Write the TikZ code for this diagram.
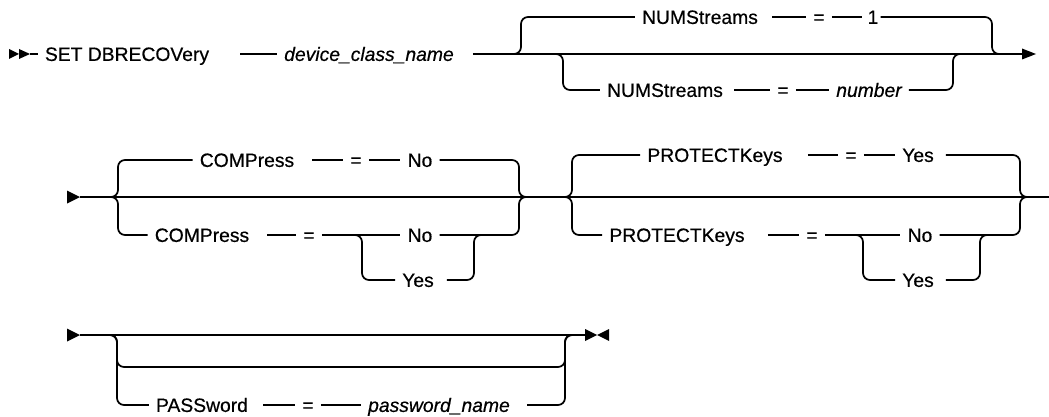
\documentclass[tikz,border=0pt]{standalone}
\usepackage{fontspec}
\setmainfont{Liberation Sans}
\newfontfamily\kwfont{Liberation Sans}[FakeBold=0.5, ItalicFeatures={FakeBold=0.5}]
\begin{document}
\begin{tikzpicture}[x=1pt,y=-1pt,
  ln/.style={line width=1.7pt, rounded corners=7pt},
  kw/.style={font=\kwfont\fontsize{19.3}{23}\selectfont, inner xsep=7pt, inner ysep=0pt, text height=13.8pt, text depth=0pt},
  var/.style={kw, font=\kwfont\fontsize{19.3}{23}\selectfont\itshape},
  tip/.style={fill=black}]
\useasboundingbox (0,0) rectangle (1049,417);

% ---------- Row 1 ----------
\node[kw]  (set)  at (127,54) {SET DBRECOVery};
\node[var] (dcn)  at (369,54) {device\_class\_name};
\node[kw]  (nsA)  at (700,17) {NUMStreams};
\node[kw]  (eqA)  at (819,17) {=};
\node[kw, inner xsep=2pt] (oneA) at (873,17) {1};
\node[kw]  (nsB)  at (665,90) {NUMStreams};
\node[kw]  (eqB)  at (783,90) {=};
\node[var] (numB) at (869,90) {number};
\coordinate (s1) at (30,54);
\coordinate (f1) at (506,54);
\coordinate (f2) at (555,54);
\coordinate (j1) at (1000,54);
\coordinate (j2) at (960,54);
\coordinate (e1) at (1022,54);

\fill[tip] (9,49) -- (19,54) -- (9,59) -- cycle;
\fill[tip] (19,49) -- (30,54) -- (19,59) -- cycle;
\draw[ln] (s1) -- (set.west);
\draw[ln, shorten <=24pt] (set.east) -- (dcn.west);
\draw[ln, shorten <=12pt] (dcn.east) -- (e1);
\fill[tip] (1022,48.5) -- (1036,54) -- (1022,59.5) -- cycle;
\draw[ln] (f1) -- ++(15,0) |- (nsA.west);
\draw[ln, shorten <=7pt] (nsA.east) -- (eqA.west);
\draw[ln, shorten >=3pt] (eqA.east) -- (oneA.west);
\draw[ln] (j1) -- ++(-8,0) |- (oneA.east);
\draw[ln] (f2) -- ++(8,0) |- (nsB.west);
\draw[ln, shorten <=4pt] (nsB.east) -- (eqB.west);
\draw[ln] (eqB.east) -- (numB.west);
\draw[ln] (j2) -- ++(-7,0) |- (numB.east);

% ---------- Row 2 ----------
\node[kw] (cpA) at (247,160) {COMPress};
\node[kw] (eqC) at (356,160) {=};
\node[kw] (noC) at (420,160) {No};
\node[kw] (cpB) at (202,235) {COMPress};
\node[kw] (eqD) at (309,235) {=};
\node[kw] (noD) at (420,235) {No};
\node[kw] (yesD) at (418,280) {Yes};
\node[kw] (pkA) at (715,155) {PROTECTKeys};
\node[kw] (eqE) at (851,155) {=};
\node[kw] (yesE) at (918,155) {Yes};
\node[kw] (pkB) at (677,235) {PROTECTKeys};
\node[kw] (eqF) at (812,235) {=};
\node[kw] (noF) at (920,235) {No};
\node[kw] (yesF) at (918,280) {Yes};
\coordinate (s2) at (80,197);
\coordinate (e2) at (1049,197);
\coordinate (f3) at (108,197);
\coordinate (j3) at (528,197);
\coordinate (f5) at (354,235);
\coordinate (j5) at (481,235);
\coordinate (f6) at (564,197);
\coordinate (j6) at (1029,197);
\coordinate (f7) at (856,235);
\coordinate (j7) at (988,235);

\fill[tip] (67,190.5) -- (80,197) -- (67,203.5) -- cycle;
\draw[ln] (s2) -- (e2);
% COMPress
\draw[ln] (f3) -- ++(10,0) |- (cpA.west);
\draw[ln, shorten <=11pt] (cpA.east) -- (eqC.west);
\draw[ln] (eqC.east) -- (noC.west);
\draw[ln] (j3) -- ++(-9,0) |- (noC.east);
\draw[ln] (f3) -- ++(10,0) |- (cpB.west);
\draw[ln, shorten <=11pt] (cpB.east) -- (eqD.west);
\draw[ln] (eqD.east) -- (noD.west);
\draw[ln] (f5) -- ++(8,0) |- (yesD.west);
\draw[ln, shorten >=6pt] (j5) -- ++(-7,0) |- (yesD.east);
\draw[ln] (j3) -- ++(-9,0) |- (noD.east);
% PROTECTKeys
\draw[ln] (f6) -- ++(8,0) |- (pkA.west);
\draw[ln, shorten <=18pt] (pkA.east) -- (eqE.west);
\draw[ln] (eqE.east) -- (yesE.west);
\draw[ln, shorten >=5pt] (j6) -- ++(-9,0) |- (yesE.east);
\draw[ln] (f6) -- ++(8,0) |- (pkB.west);
\draw[ln, shorten <=16pt] (pkB.east) -- (eqF.west);
\draw[ln] (eqF.east) -- (noF.west);
\draw[ln] (f7) -- ++(7,0) |- (yesF.west);
\draw[ln, shorten >=5pt] (j7) -- ++(-8,0) |- (yesF.east);
\draw[ln] (j6) -- ++(-9,0) |- (noF.east);

% ---------- Row 3 ----------
\node[kw]  (pw)  at (202,405) {PASSword};
\node[kw]  (eqG) at (308,405) {=};
\node[var] (pwn) at (439,405) {password\_name};
\coordinate (s3) at (80,335);
\coordinate (e3) at (585,335);
\coordinate (f8) at (108,335);
\coordinate (j8) at (573,335);

\fill[tip] (67,328.5) -- (80,335) -- (67,341.5) -- cycle;
\draw[ln] (s3) -- (e3);
\fill[tip] (585,329) -- (597,335) -- (585,341) -- cycle;
\fill[tip] (609,329) -- (597,335) -- (609,341) -- cycle;
\draw[ln] (f8) -- ++(9,0) -- ++(0,32) -- ++(448,0) -- ++(0,-32) -- (j8);
\draw[ln] (f8) -- ++(9,0) |- (pw.west);
\draw[ln, shorten <=8pt] (pw.east) -- (eqG.west);
\draw[ln] (eqG.east) -- (pwn.west);
\draw[ln, shorten >=10pt] (j8) -- ++(-8,0) |- (pwn.east);
\end{tikzpicture}
\end{document}
